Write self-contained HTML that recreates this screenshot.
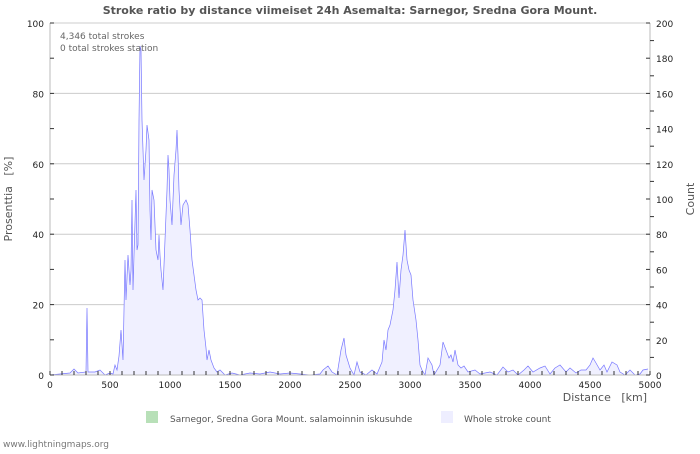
<!DOCTYPE html>
<html><head><meta charset="utf-8"><style>
body{margin:0;background:#fff;font-family:"DejaVu Sans","Liberation Sans",sans-serif;}
svg text{font-family:"DejaVu Sans","Liberation Sans",sans-serif;white-space:pre;}
</style></head><body>
<svg id="s" width="700" height="450" xmlns="http://www.w3.org/2000/svg">
<text x="350" y="14" text-anchor="middle" font-size="11" font-weight="bold" fill="#555">Stroke ratio by distance viimeiset 24h Asemalta: Sarnegor, Sredna Gora Mount.</text>
<g id="grid"></g>
<polygon id="area" fill="#f0f0ff" stroke="none"/>
<polyline id="line" fill="none" stroke="#7777ff" stroke-width="0.7"/>
<line x1="50" y1="23" x2="50" y2="375" stroke="#bbb"/>
<line x1="650" y1="23" x2="650" y2="375" stroke="#bbb"/>
<line x1="50" y1="375" x2="650" y2="375" stroke="#bbb"/>
<g id="ticks"></g>
<text x="60" y="39" font-size="9" fill="#666">4,346 total strokes</text>
<text x="60" y="51" font-size="9" fill="#666">0 total strokes station</text>
<text x="12" y="199" font-size="11" fill="#555" text-anchor="middle" transform="rotate(-90 12 199)">Prosenttia   [%]</text>
<text x="694" y="199" font-size="11" fill="#555" text-anchor="middle" transform="rotate(-90 694 199)">Count</text>
<text x="647" y="401" font-size="11" fill="#555" text-anchor="end">Distance   [km]</text>
<rect x="146" y="411" width="12" height="12" fill="#b8e0b8"/>
<text x="170" y="422" font-size="9" fill="#555">Sarnegor, Sredna Gora Mount. salamoinnin iskusuhde</text>
<rect x="441" y="411" width="12" height="12" fill="#eeeeff"/>
<text x="464" y="422" font-size="9" fill="#555">Whole stroke count</text>
<text x="3" y="447" font-size="9" fill="#777">www.lightningmaps.org</text>
</svg>
<script>
var pts=[50,375,60,374,70,373,74,369,78,373,86,372,87,308,88,372,95,372,100,370,105,375,110,373,113,374,115,365,117,370,119,356,121,330,123,360,124,310,125,260,126,300,128,255,130,285,131,270,132,200,133,290,134,255,136,190,137,250,138,245,139,120,140,46,141,50,142,120,144,180,146,150,147,125,149,140,150,210,151,240,152,190,154,200,156,250,158,260,159,235,160,255,161,270,163,290,165,240,167,190,168,155,169,170,170,200,172,225,174,175,176,150,177,130,178,155,179,190,181,225,183,205,186,200,188,205,190,230,192,260,194,275,196,290,198,300,200,298,202,300,204,330,206,348,207,360,209,350,211,360,214,368,217,372,220,370,225,375,232,373,240,375,250,373,260,374,270,372,280,374,290,373,300,374,310,375,320,374,323,370,328,366,332,372,337,375,341,350,344,338,346,355,350,368,354,375,357,362,360,372,366,375,372,370,377,374,382,362,384,340,386,350,388,330,390,325,393,310,395,290,397,262,399,298,401,270,403,255,405,230,407,260,409,270,411,275,413,300,416,320,418,340,420,365,422,370,425,375,428,358,432,365,434,375,440,365,443,342,446,350,449,358,451,355,453,362,455,350,458,365,461,368,464,366,468,372,475,370,480,374,490,372,497,375,503,367,508,372,513,370,518,375,524,370,528,366,533,372,540,368,545,366,550,374,555,368,560,365,566,372,570,368,576,373,581,370,586,370,590,365,593,358,596,363,600,370,604,365,607,372,612,362,617,365,620,372,625,375,630,370,635,375,640,374,643,370,648,369];
var p=[];for(var i=0;i<pts.length;i+=2)p.push(pts[i]+','+pts[i+1]);
document.getElementById('line').setAttribute('points',p.join(' '));
document.getElementById('area').setAttribute('points','50,375 '+p.join(' ')+' 648,375');
var g='',t='';
for(var k=1;k<=5;k++){var y=375-k*70.4;g+='<line x1="50" x2="650" y1="'+y+'" y2="'+y+'" stroke="#ccc"/>';}
for(var k=0;k<=20;k++){var y=375-k*17.6;
 if(k%2==0){t+='<line x1="646" x2="650" y1="'+y+'" y2="'+y+'" stroke="#333"/><text x="656" y="'+(y+4)+'" font-size="9" fill="#222">'+(k*10)+'</text>';}
 else t+='<line x1="650" x2="654" y1="'+y+'" y2="'+y+'" stroke="#333"/>';}
for(var k=0;k<=10;k++){var y=375-k*35.2;t+='<line x1="50" x2="54" y1="'+y+'" y2="'+y+'" stroke="#333"/>';
 if(k%2==0){t+='<text x="44" y="'+(y+4)+'" font-size="9" text-anchor="end" fill="#222">'+(k*10)+'</text>';}}
for(var k=0;k<=50;k++){var x=50+k*12;t+='<line x1="'+x+'" x2="'+x+'" y1="371" y2="375" stroke="#333"/>';
 if(k%5==0)t+='<text x="'+x+'" y="388" font-size="9" text-anchor="middle" fill="#222">'+(k*100)+'</text>';}
document.getElementById('grid').innerHTML=g;document.getElementById('ticks').innerHTML=t;
</script>
</body></html>
